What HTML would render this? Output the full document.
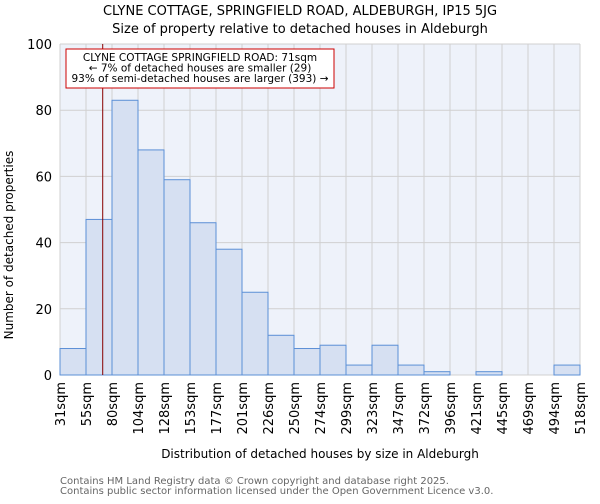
<!DOCTYPE html>
<html><head><meta charset="utf-8"><style>
body{margin:0;background:#fff;font-family:"DejaVu Sans","Liberation Sans",sans-serif;}
svg text{font-family:"DejaVu Sans","Liberation Sans",sans-serif;}
</style></head><body>
<svg id="chart" width="600" height="500" xmlns="http://www.w3.org/2000/svg">
<text x="300" y="15" text-anchor="middle" font-size="13" fill="#000">CLYNE COTTAGE, SPRINGFIELD ROAD, ALDEBURGH, IP15 5JG</text>
<text x="300" y="33" text-anchor="middle" font-size="13" fill="#000">Size of property relative to detached houses in Aldeburgh</text>
<rect x="60" y="44" width="520" height="331" fill="#eef2fa"/>
<g id="grid"></g><g id="bars"></g><g id="yticks"></g><g id="xticks"></g>
<text transform="translate(13,245) rotate(-90)" text-anchor="middle" font-size="12">Number of detached properties</text>
<text x="320" y="458" text-anchor="middle" font-size="12">Distribution of detached houses by size in Aldeburgh</text>
<text x="60" y="484" font-size="10" fill="#666">Contains HM Land Registry data © Crown copyright and database right 2025.</text>
<text x="60" y="494" font-size="10" fill="#666">Contains public sector information licensed under the Open Government Licence v3.0.</text>
</svg>
<script>
const categories=["31sqm","55sqm","80sqm","104sqm","128sqm","153sqm","177sqm","201sqm","226sqm","250sqm","274sqm","299sqm","323sqm","347sqm","372sqm","396sqm","421sqm","445sqm","469sqm","494sqm","518sqm"];
const counts=[8,47,83,68,59,46,38,25,12,8,9,3,9,3,1,0,1,0,0,3];
const yTicks=[0,20,40,60,80,100];
const binStart=31, binWidth=24.35, propertySize=71;
const NS="http://www.w3.org/2000/svg";
const X0=60,X1=580,Y0=375,Y1=44;
const bw=(X1-X0)/counts.length;
function xIdx(i){return X0+i*bw;}
function xVal(v){return X0+(v-binStart)/binWidth*bw;}
function y(v){return Y0-(v/100)*(Y0-Y1);}
function mk(tag,attrs,parent){const e=document.createElementNS(NS,tag);for(const k in attrs)e.setAttribute(k,attrs[k]);document.getElementById(parent).appendChild(e);return e;}
yTicks.forEach(t=>{
 const l=mk('line',{x1:X0,x2:X1,y1:y(t),y2:y(t),stroke:'#d0d0d0','stroke-width':1},'grid');
 
 
 const tx=mk('text',{x:52,y:y(t)+5,'text-anchor':'end','font-size':13},'yticks');
 tx.textContent=t;
 
 
});
categories.forEach((c,i)=>{
 const l=mk('line',{x1:xIdx(i),x2:xIdx(i),y1:Y1,y2:Y0,stroke:'#d0d0d0','stroke-width':1},'grid');
 
 
 const tx=mk('text',{transform:`translate(${xIdx(i)+5},382) rotate(-90)`,'text-anchor':'end','font-size':13},'xticks');
 tx.textContent=c;
 
 
});
counts.forEach((v,i)=>{
 const r=mk('rect',{x:xIdx(i),y:y(v),width:bw,height:Y0-y(v),fill:'#d6e0f2',stroke:'#5b8fd6','stroke-width':1},'bars');
 
 
});
const px=xVal(propertySize);
const ml=mk('line',{x1:px,x2:px,y1:Y1,y2:Y0,stroke:'#880000','stroke-width':1},'bars');


const box=mk('rect',{x:66,y:49,width:268,height:39,fill:'#fff',stroke:'#cc0000','stroke-width':1},'bars');


["CLYNE COTTAGE SPRINGFIELD ROAD: 71sqm","← 7% of detached houses are smaller (29)","93% of semi-detached houses are larger (393) →"].forEach((s,k)=>{
 const t=mk('text',{x:200,y:61+k*10.5,'text-anchor':'middle','font-size':10.5},'bars');
 t.textContent=s;
 
 
});
</script>
</body></html>
